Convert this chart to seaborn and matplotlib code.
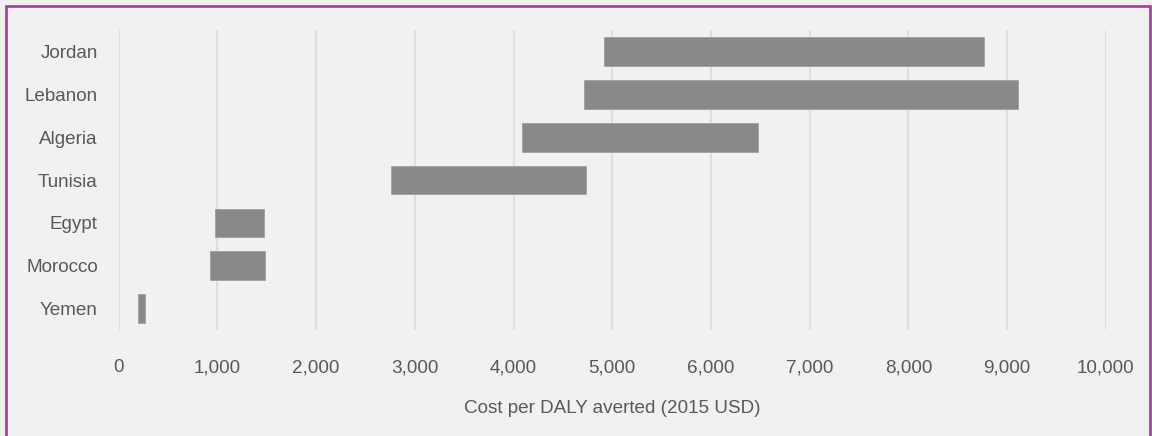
import matplotlib
matplotlib.use("Agg")
import matplotlib.pyplot as plt
import pandas as pd
import seaborn as sns
from matplotlib.patches import Rectangle
from matplotlib.ticker import FuncFormatter

countries = ["Jordan", "Lebanon", "Algeria", "Tunisia", "Egypt", "Morocco", "Yemen"]
cost_low = [4920, 4710, 4090, 2760, 980, 930, 200]
cost_high = [8770, 9110, 6480, 4730, 1470, 1485, 270]

TEXT = "#595959"
BG = "#f1f1f1"

df = pd.DataFrame({"Country": countries, "Low": cost_low, "High": cost_high})
df["Range"] = df["High"] - df["Low"]

sns.set_theme(style="white")
plt.rcParams["font.family"] = ["Liberation Sans", "DejaVu Sans"]

fig = plt.figure(figsize=(11.52, 4.36), dpi=100, facecolor=BG)
ax = fig.add_axes([0.103, 0.243, 0.857, 0.688])
ax.set_facecolor(BG)

sns.barplot(data=df, x="Range", y="Country", left=df["Low"], color="#898989",
            saturation=1, width=0.67, edgecolor="#a0a0a0", linewidth=0.6, ax=ax, zorder=3)

ax.set_xlim(0, 10000)
ax.set_ylim(6.5, -0.5)
ax.set_xticks(range(0, 10001, 1000))
ax.xaxis.set_major_formatter(FuncFormatter(lambda v, p: f"{int(v):,}"))
ax.grid(axis="x", color="#d9d9d9", linewidth=1.1, zorder=0)
ax.set_axisbelow(True)
for s in ax.spines.values():
    s.set_visible(False)

ax.tick_params(axis="both", length=0, labelsize=13.6, labelcolor=TEXT)
ax.tick_params(axis="y", pad=15)
ax.tick_params(axis="x", pad=21)
ax.set_ylabel("")
ax.set_xlabel("Cost per DALY averted (2015 USD)", fontsize=13.6, color=TEXT, labelpad=17)

# purple frame around the chart
fig.patches.append(Rectangle((5.5 / 1152, -0.1), 1144.5 / 1152, 1.1 - 6.5 / 436,
                             transform=fig.transFigure, fill=False,
                             edgecolor="#a23ca0", linewidth=1.9, clip_on=False))

fig.savefig("out.png", dpi=100, facecolor=BG)
